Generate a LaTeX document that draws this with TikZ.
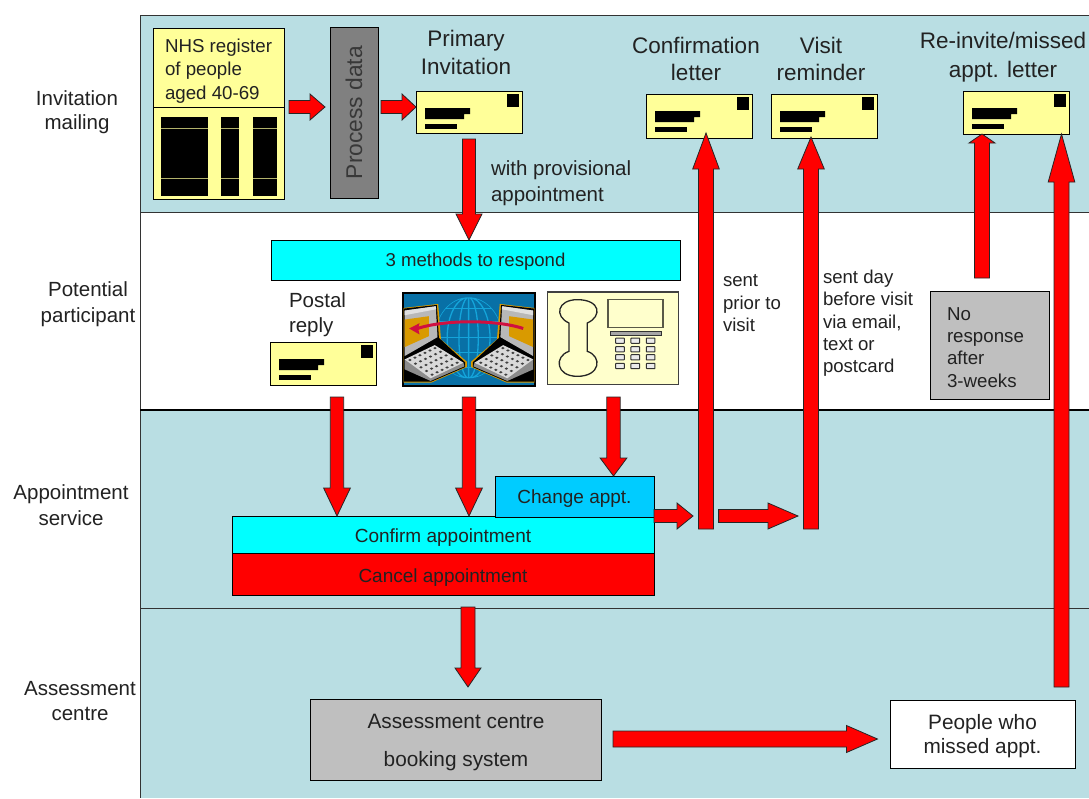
\documentclass[tikz,border=0pt]{standalone}
\usepackage{fontspec}
\setmainfont{Liberation Sans}
\usetikzlibrary{calc}
\definecolor{bandblue}{HTML}{B9DEE3}
\definecolor{envyellow}{HTML}{FFFF99}
\definecolor{inkgray}{HTML}{222222}
\definecolor{changeblue}{HTML}{00CCFF}
\definecolor{brightcyan}{HTML}{00FFFF}
\definecolor{phoneyellow}{HTML}{FFFFCC}
\definecolor{webblue}{HTML}{0870A6}
\definecolor{globeblue}{HTML}{14A4DA}
\definecolor{goldscreen}{HTML}{D99A00}
\definecolor{webred}{HTML}{D01040}
\newcommand{\fsz}[2]{\fontsize{#1}{#2}\selectfont}
% text in a box: baseline offset below the node centre
\newcommand{\btext}[2]{\raisebox{-#1pt}[0pt][0pt]{#2}}
\tikzset{
  boxstyle/.style={draw=black,line width=.9pt,inner sep=0pt,outer sep=0pt,text=inkgray},
  txt/.style={inner sep=0pt,outer sep=0pt,text=inkgray,align=center},
  txtl/.style={inner sep=0pt,outer sep=0pt,text=inkgray,align=left},
  blockstyle/.style={draw=black!85,fill=red,line width=.8pt,line join=miter},
  bandline/.style={draw=black!80,line width=1pt},
}
% block arrow: from, to, shaft half, head half, head length
\newcommand{\blockarrow}[5]{%
  \coordinate (bA) at #1;
  \coordinate (bB) at #2;
  \coordinate (bH) at ($(bB)!#5pt!(bA)$);
  \draw[blockstyle] ($(bA)!#3pt!90:(bB)$) -- ($(bH)!#3pt!90:(bB)$) -- ($(bH)!#4pt!90:(bB)$) -- (bB)
    -- ($(bH)!#4pt!-90:(bB)$) -- ($(bH)!#3pt!-90:(bB)$) -- ($(bA)!#3pt!-90:(bB)$) -- cycle;
}
% envelope: name, left, top, height
\newcommand{\envelope}[4]{%
  \node[boxstyle,fill=envyellow,minimum width=106pt,minimum height=#4pt] (#1) at (#2+53,#3+#4/2) {};
  \begin{scope}[shift={(#2,#3)}]
    \fill[black] (91,3) rectangle (103,16);
    \fill[black] (9,17) -- (54,17) -- (54,23) -- (48,23) -- (48,28) -- (9,28) -- cycle;
    \fill[black] (9,33) rectangle (41,38);
  \end{scope}
}
\newcommand{\laptopicon}{%
  \fill[goldscreen] (12,60) -- (112,48) -- (120,155) -- (195,222) -- (195,238) -- (92,285) -- (12,285) -- cycle;
  \fill[black] (13,62) -- (108,51) -- (114,150) -- (190,224) -- (190,238) -- (92,282) -- (13,282) -- cycle;
  \fill[black!28] (15,68) -- (105,55) -- (110,148) -- (15,205) -- cycle;
  \fill[white!88!black] (15,68) -- (105,55) -- (106,64) -- (15,82) -- cycle;
  \fill[goldscreen] (15,95) -- (85,85) -- (85,145) -- (15,178) -- cycle;
  \fill[black!45] (15,245) -- (90,280) -- (188,236) -- (185,225) -- (15,215) -- cycle;
  \fill[white!85!black] (15,215) -- (102,172) -- (185,225) -- (90,272) -- cycle;
  \foreach \i in {0,...,5}{\foreach \j in {0,...,4}{
    \fill[black!75] ({15+(\i+.5)/6*87+(\j+.5)/5*80},{215+(\i+.5)/6*(-43)+(\j+.5)/5*55}) ellipse (5 and 3.6);
  }}
}
\begin{document}
\begin{tikzpicture}[x=1pt,y=-1pt]
\useasboundingbox (0,0) rectangle (1089,798);
\fill[white] (0,0) rectangle (1089,798);
% bands
\fill[bandblue] (140,15) rectangle (1089,212);
\fill[bandblue] (140,410) rectangle (1089,798);
\draw[bandline] (1089,15) -- (140,15) -- (140,798);
\draw[bandline] (140,212) -- (1089,212);
\draw[black,line width=2pt] (140,410) -- (1089,410);
\draw[bandline] (140,608) -- (1089,608);
% row labels
\node[txt,font=\fsz{20.5}{24.5}] (rowinv) at (77,112) {Invitation\\mailing};
\node[txt,font=\fsz{20.5}{25.5}] (rowpot) at (88,304) {Potential\\participant};
\node[txt,font=\fsz{20.5}{25.5}] (rowapp) at (71,505) {Appointment\\service};
\node[txt,font=\fsz{20.5}{25}] (rowass) at (80,701) {Assessment\\centre};
% register
\node[boxstyle,fill=envyellow,minimum width=131pt,minimum height=79pt,font=\fsz{18.7}{23.5}] (nhs) at (218.5,67.5) {\btext{-15.5}{\parbox[t]{107pt}{\raggedright NHS register\\of people\\aged 40-69}}};
\node[boxstyle,fill=envyellow,minimum width=131pt,minimum height=92pt] (nhslist) at (218.5,153) {};
\fill[black] (161,117) rectangle (208,196);
\fill[black] (221,117) rectangle (239,196);
\fill[black] (253,117) rectangle (277,196);
\draw[envyellow!70!black,line width=.8pt] (161,128) -- (208,128) (221,128) -- (239,128) (253,128) -- (277,128);
\draw[envyellow!70!black,line width=.8pt] (161,178) -- (208,178) (221,178) -- (239,178) (253,178) -- (277,178);
% process
\node[boxstyle,fill=black!50,rotate=90,minimum width=171pt,minimum height=48pt,text=black!78,font=\fsz{22.8}{26}] (proc) at (354,112.5) {Process data};
% envelopes and titles
\envelope{primary}{416}{91}{42}
\envelope{conf}{646}{94}{44}
\envelope{visit}{771}{94}{44}
\envelope{reinv}{963}{91}{43}
\envelope{postal}{270}{342}{43}
\node[txt,font=\fsz{22.5}{28}] (tprimary) at (466,52) {Primary\\Invitation};
\node[txt,font=\fsz{22.5}{27}] (tconf) at (696,58.5) {Confirmation\\letter};
\node[txt,font=\fsz{22.5}{27}] (tvisit) at (821,58.5) {Visit\\reminder};
\node[txt,font=\fsz{22.5}{29}] (treinv) at (1003,57) {Re-invite/missed\\appt. letter};
\node[txtl,font=\fsz{20.5}{26},anchor=west] (tprov) at (491,183) {with provisional\\appointment};
% methods
\node[boxstyle,fill=brightcyan,minimum width=409pt,minimum height=40pt,font=\fsz{18.6}{22}] (methods) at (475.5,260) {\btext{6.75}{3 methods to respond}};
\node[txtl,font=\fsz{20.5}{25},anchor=west] (tpostal) at (289,315) {Postal\\reply};
% web icon
\begin{scope}[shift={(399.5,288)},x=.3455pt,y=-.332pt]
  \draw[black,line width=1.6pt,fill=webblue] (10,15) rectangle (392,295);
  \begin{scope}
    \clip (200,150) ellipse (98 and 122);
    \draw[globeblue,line width=1.3pt] (200,150) ellipse (98 and 122) (200,150) ellipse (62 and 122) (200,150) ellipse (28 and 122) (200,28) -- (200,272);
    \foreach \yy in {62,100,150,195,240}{\draw[globeblue,line width=1.3pt] (95,\yy) -- (305,\yy);}
  \end{scope}
  \laptopicon
\end{scope}
\begin{scope}[shift={(538.4,288)},x=-.3455pt,y=-.332pt]
  \laptopicon
\end{scope}
\begin{scope}[shift={(399.5,288)},x=.3455pt,y=-.332pt]
  \draw[webred,line width=3pt] (358,122) .. controls (280,95) and (130,95) .. (52,122);
  \fill[webred] (28,122) -- (58,106) -- (54,122) -- (58,140) -- cycle;
\end{scope}
% phone icon
\begin{scope}[shift={(544,288)},x=.3333pt,y=-.3333pt]
  \draw[black!75,line width=1.4pt,fill=phoneyellow] (10,12) rectangle (403,290);
  \draw[black!85,line width=1.3pt] (75,105) .. controls (30,85) and (40,35) .. (100,35) .. controls (170,35) and (175,85) .. (130,105) -- (130,190) .. controls (175,205) and (170,265) .. (100,265) .. controls (35,265) and (30,205) .. (75,190) -- cycle;
  \draw[black!65!phoneyellow,line width=1.4pt] (192,35) rectangle (357,118);
  \draw[black!80,fill=black!35,line width=.8pt] (198,131) rectangle (352,142);
  \foreach \kx in {228,274,320}{\foreach \ky in {158,184,208,234}{
    \draw[black!80,fill=black!8,line width=1pt,rounded corners=.6pt] (\kx-13,\ky-8) rectangle (\kx+13,\ky+8);
  }}
\end{scope}
% side notes
\node[txtl,font=\fsz{18.6}{22.5},anchor=north west] (tsent) at (723,274.5) {sent\\prior to\\visit};
\node[txtl,font=\fsz{18.6}{22.3},anchor=north west] (tday) at (823,270) {sent day\\before visit\\via email,\\text or\\postcard};
\node[boxstyle,fill=black!25,minimum width=119pt,minimum height=108pt,font=\fsz{18.7}{22.4}] (noresp) at (989.5,345) {\btext{-25}{\parbox[t]{85pt}{\raggedright No\\response\\after\\3-weeks}}};
% appointment service
\node[boxstyle,fill=brightcyan,minimum width=422pt,minimum height=37pt,font=\fsz{19}{22}] (confirm) at (443,534.5) {\btext{7.75}{Confirm appointment}};
\node[boxstyle,fill=red,minimum width=422pt,minimum height=42pt,font=\fsz{19}{22}] (cancel) at (443,574) {\btext{8.75}{Cancel appointment}};
\node[boxstyle,fill=changeblue,minimum width=159pt,minimum height=41pt,font=\fsz{19}{22}] (change) at (574.5,496.5) {\btext{6.75}{Change appt.}};
% assessment
\node[boxstyle,fill=black!25,minimum width=290.5pt,minimum height=81pt,font=\fsz{20.8}{38}] (book) at (456,739.5) {\btext{-11}{\parbox[t]{280pt}{\centering Assessment centre\\booking system}}};
\node[boxstyle,fill=white,minimum width=185pt,minimum height=68pt,font=\fsz{20.8}{24}] (missed) at (982.5,734) {\btext{-4.5}{\parbox[t]{180pt}{\centering People who\\missed appt.}}};
% connector start points
\coordinate (sa) at (289,107);
\coordinate (sb) at (381,107);
\coordinate (ta) at (325,107);
\coordinate (sc) at (469,139);
\coordinate (sd) at (337,397);
\coordinate (se) at (469,397);
\coordinate (sf) at (613.5,397);
\coordinate (sg) at (654,516);
\coordinate (tg) at (693,516);
\coordinate (sh) at (718.6,516);
\coordinate (th) at (798,516);
\coordinate (si) at (706,529);
\coordinate (sj) at (811,529);
\coordinate (sk) at (982,278);
\coordinate (sl) at (1061.5,687);
\coordinate (sm) at (468,607);
\coordinate (tm) at (468,687);
\coordinate (sn) at (613,739);
\coordinate (tn) at (877.5,739);
% block arrows
\blockarrow{(sa)}{(ta)}{6.5}{13}{15}
\blockarrow{(sb)}{(primary.west |- sb)}{6.5}{13}{14}
\blockarrow{(sc)}{(sc |- methods.north)}{6.5}{13}{26}
\blockarrow{(sd)}{(sd |- confirm.north)}{6.7}{13.4}{28}
\blockarrow{(se)}{(se |- confirm.north)}{6.7}{13.4}{28}
\blockarrow{(sf)}{(sf |- change.north)}{6.7}{13.4}{18}
\blockarrow{(sg)}{(tg)}{6.5}{13}{16}
\blockarrow{(sh)}{(th)}{6.5}{13}{30}
\blockarrow{(si)}{($(si |- conf.south)+(0,-5)$)}{7.5}{13.3}{36}
\blockarrow{(sj)}{($(sj |- visit.south)+(0,-1)$)}{7.5}{13.3}{32}
\blockarrow{(sk)}{(sk |- reinv.south)}{7.5}{13}{9}
\blockarrow{(sl)}{(sl |- reinv.south)}{7.5}{13.3}{48}
\blockarrow{(sm)}{(tm)}{7}{13}{19}
\blockarrow{(sn)}{(tn)}{8}{13.5}{31}
\end{tikzpicture}
\end{document}
